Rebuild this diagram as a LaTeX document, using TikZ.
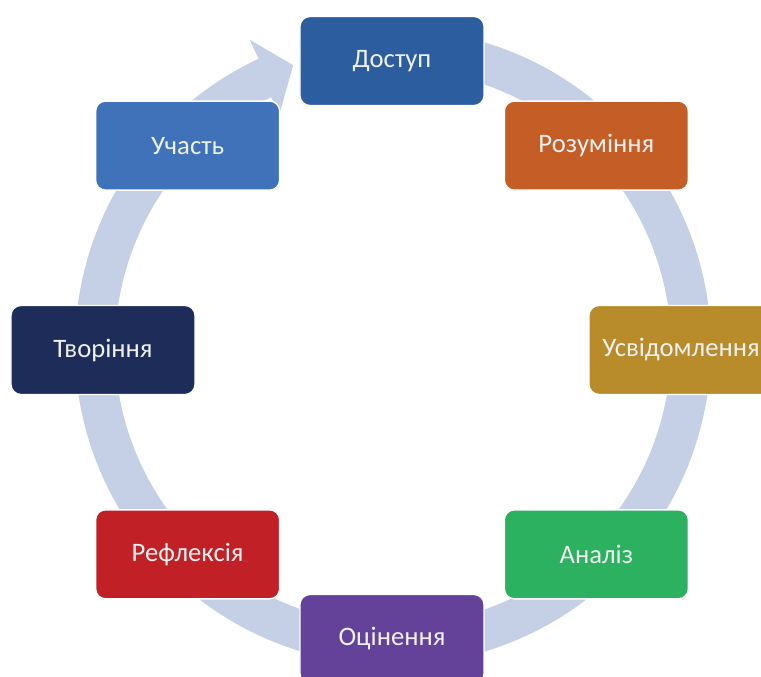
\documentclass[tikz,border=0pt]{standalone}
\usepackage{fontspec}
\setmainfont{Carlito}
\definecolor{dostup}{HTML}{2C5D9E}
\definecolor{rozum}{HTML}{C55E26}
\definecolor{usvid}{HTML}{B88B2B}
\definecolor{analiz}{HTML}{2BB15F}
\definecolor{ocin}{HTML}{65429A}
\definecolor{refl}{HTML}{C02026}
\definecolor{tvor}{HTML}{1D2C59}
\definecolor{uchast}{HTML}{3F72B9}
\definecolor{ringblue}{HTML}{C5D0E6}
\begin{document}
\begin{tikzpicture}[x=0.75pt,y=0.75pt,stage/.style={shape=rectangle,rounded corners=7.5pt,draw=white,line width=1pt,minimum width=138pt,minimum height=66.75pt,text=white!94!black,font=\fontsize{20}{24}\selectfont},ring/.style={fill=ringblue}]
\def\r{289};
\def\ri{278};
\def\ro{318};

\clip (-392,-327) rectangle (369,350);

% cycle arrow behind the boxes
\fill[ring,shift={(1,3)}] (80:\ro) arc[start angle=80,end angle=-245,radius=\ro] -- (115:339) -- (109.5:299) -- (116:259) -- (116:\ri) arc[start angle=-244,end angle=80,radius=\ri] -- cycle;

\node[stage,fill=dostup] (D) at (90:\r) {Доступ};
\node[stage,fill=rozum] (R) at (45:\r) {Розуміння};
\node[stage,fill=usvid] (Us) at (0:\r) {Усвідомлення};
\node[stage,fill=analiz] (A) at (-45:\r) {Аналіз};
\node[stage,fill=ocin] (O) at (-90:\r) {Оцінення};
\node[stage,fill=refl] (Rf) at (-135:\r) {Рефлексія};
\node[stage,fill=tvor] (T) at (180:\r) {Творіння};
\node[stage,fill=uchast] (Uc) at (135:\r) {Участь};
\end{tikzpicture}
\end{document}
